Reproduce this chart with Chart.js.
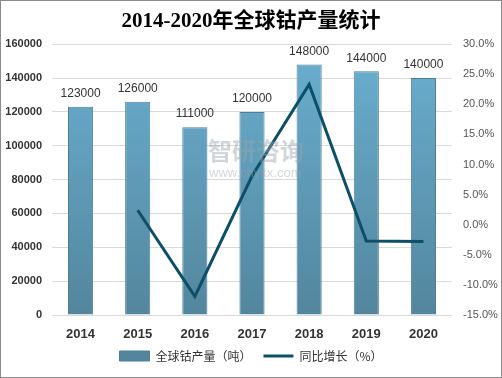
<!DOCTYPE html>
<html>
<head>
<meta charset="UTF-8" />
<title>2014-2020年全球钴产量统计</title>
<style>
    body { margin: 0; background: #fff; }
    #wrap { width: 500px; height: 376px; border: 1px solid #8c8c8c; }
    canvas#chartId { display: block; }
</style>
</head>
<body>
<div id="wrap"><canvas id="chartId" width="500" height="376"></canvas></div>
<script src="https://cdn.jsdelivr.net/npm/chart.js@4/dist/chart.umd.min.js"></script>
<script>
    // data
    var years = ['2014', '2015', '2016', '2017', '2018', '2019', '2020'];
    var output = [123000, 126000, 111000, 120000, 148000, 144000, 140000];
    var growth = [null, 2.4, -11.9, 8.1, 23.3, -2.7, -2.8];
    var leftTicks = [0, 20000, 40000, 60000, 80000, 100000, 120000, 140000, 160000];
    var rightTicks = [-15, -10, -5, 0, 5, 10, 15, 20, 25, 30];

    var ctx = document.getElementById('chartId').getContext('2d');

    function barFill(c) {
        var area = c.chart.chartArea;
        if (!area) return '#5f9dbd';
        var g = c.chart.ctx.createLinearGradient(0, area.top, 0, area.bottom);
        g.addColorStop(0, '#6aafd0');
        g.addColorStop(1, '#53869d');
        return g;
    }

    // value labels above the bars + faint watermark
    var extras = {
        id: 'extras',
        afterDatasetsDraw: function (chart) {
            var c = chart.ctx;
            var meta = chart.getDatasetMeta(1);
            c.save();
            c.globalAlpha = 0.45;
            c.fillStyle = '#9aa3ad';
            c.textAlign = 'left';
            c.textBaseline = 'middle';
            c.font = 'bold 24px "Noto Sans CJK SC", sans-serif';
            c.fillText('智研咨询', 207, 150);
            c.font = '13px "Liberation Sans", Arial, sans-serif';
            c.fillText('www.chyxx.com', 208, 172);
            c.globalAlpha = 1;
            c.font = '12px "Liberation Sans", Arial, sans-serif';
            c.fillStyle = '#333';
            c.textAlign = 'center';
            c.textBaseline = 'bottom';
            meta.data.forEach(function (bar, i) {
                c.fillText(output[i], bar.x, bar.y - 7);
            });
            c.restore();
        }
    };

    new Chart(ctx, {
        data: {
            labels: years,
            datasets: [{
                type: 'line',
                label: '同比增长（%）',
                data: growth,
                yAxisID: 'y1',
                borderColor: '#0d4f68',
                backgroundColor: '#0d4f68',
                borderWidth: 3,
                pointRadius: 0,
                tension: 0,
                order: 0
            }, {
                type: 'bar',
                label: '全球钴产量（吨）',
                data: output,
                yAxisID: 'y',
                backgroundColor: barFill,
                borderColor: '#4b7f97',
                borderWidth: 1,
                barPercentage: 0.88,
                categoryPercentage: 0.5,
                order: 1
            }]
        },
        options: {
            responsive: false,
            animation: false,
            layout: { padding: { top: 6, bottom: 5 } },
            plugins: {
                title: {
                    display: true,
                    text: '2014-2020年全球钴产量统计',
                    color: '#000',
                    font: { family: '"Liberation Serif", "Noto Sans CJK SC", serif', size: 21, weight: 'bold' },
                    padding: { top: 2, bottom: 10 }
                },
                legend: {
                    position: 'bottom',
                    reverse: true,
                    labels: {
                        usePointStyle: true,
                        pointStyleWidth: 30,
                        boxHeight: 10,
                        color: '#333',
                        padding: 12,
                        font: { family: '"Noto Sans CJK SC", sans-serif', size: 12 },
                        generateLabels: function (chart) {
                            var items = Chart.defaults.plugins.legend.labels.generateLabels(chart);
                            items.forEach(function (it) {
                                var ds = chart.data.datasets[it.datasetIndex];
                                it.pointStyle = ds.type === 'line' ? 'line' : 'rect';
                            });
                            return items;
                        }
                    }
                },
                tooltip: { enabled: false }
            },
            scales: {
                x: {
                    grid: { display: false },
                    border: { display: false },
                    afterFit: function (s) { s.height = 23; },
                    ticks: {
                        color: '#333',
                        padding: 4,
                        font: { family: '"Liberation Sans", Arial, sans-serif', size: 13, weight: 'bold' }
                    }
                },
                y: {
                    position: 'left',
                    min: 0,
                    max: 160000,
                    afterBuildTicks: function (s) { s.ticks = leftTicks.map(function (v) { return { value: v }; }); },
                    afterFit: function (s) { s.width = 51; },
                    grid: { color: '#d9d9d9', drawTicks: false },
                    border: { display: false },
                    ticks: {
                        color: '#333',
                        padding: 10,
                        font: { family: '"Liberation Sans", Arial, sans-serif', size: 11, weight: 'bold' },
                        callback: function (v) { return String(v); }
                    }
                },
                y1: {
                    position: 'right',
                    min: -15,
                    max: 30,
                    afterBuildTicks: function (s) { s.ticks = rightTicks.map(function (v) { return { value: v }; }); },
                    afterFit: function (s) { s.width = 49; },
                    grid: { display: false, drawTicks: false },
                    border: { display: false },
                    ticks: {
                        color: '#555',
                        padding: 11,
                        font: { family: '"Liberation Sans", Arial, sans-serif', size: 11 },
                        callback: function (v) { return v.toFixed(1) + '%'; }
                    }
                }
            }
        },
        plugins: [extras]
    });
</script>
</body>
</html>
